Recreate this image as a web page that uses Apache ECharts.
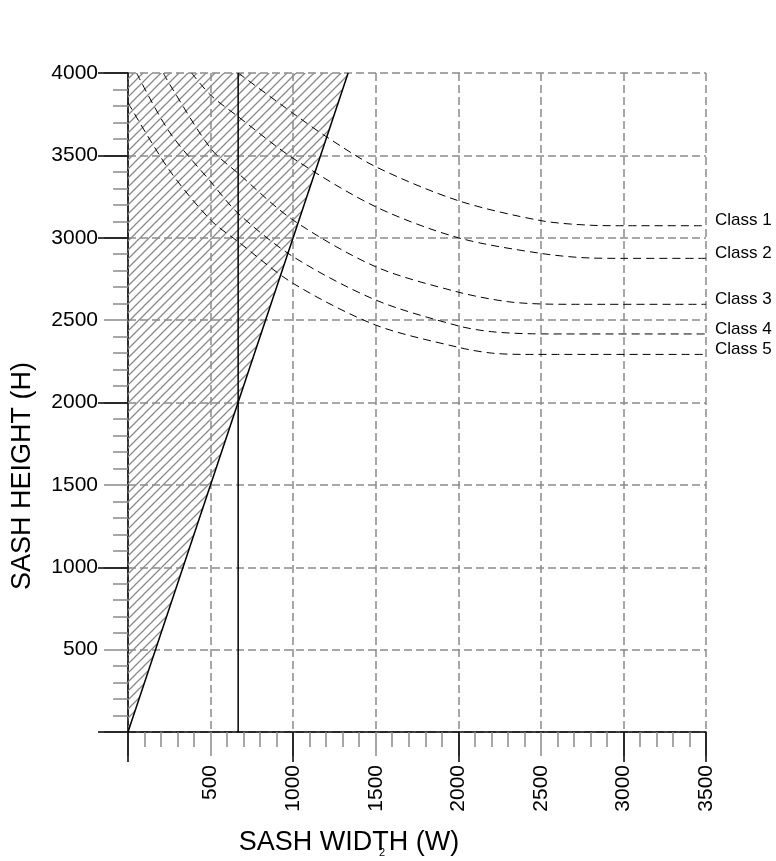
<!DOCTYPE html>
<html>
<head>
<meta charset="utf-8">
<script src="https://cdn.jsdelivr.net/npm/echarts@6/dist/echarts.min.js"></script>
<style>
  html, body { margin: 0; padding: 0; background: #fff; }
  #chart { width: 776px; height: 861px; }
</style>
</head>
<body>
<div id="chart"></div>
<script>
// axis ranges and tick labels
const xMax = 3500;
const yMax = 4000;
const xBlackTicks = [0, 1000, 2000, 3000, 3500];
const yBlackTicks = [0, 1000, 2000, 3000, 3500, 4000];

// limit line H = 3W and the vertical divider
const limitLine = [[0, 0], [1333, 4000]];
const dividerLine = [[667, 0], [667, 4000]];

// class curves: [W, H]
const classNames = ['Class 1', 'Class 2', 'Class 3', 'Class 4', 'Class 5'];
const class1 = [[667, 4000], [1000, 3755], [1200, 3614], [1500, 3431], [2000, 3225], [2500, 3104], [2800, 3076], [3000, 3073], [3500, 3073]];
const class2 = [[385, 4000], [500, 3866], [667, 3735], [1000, 3482], [1500, 3188], [2000, 3000], [2500, 2905], [2800, 2877], [3000, 2875], [3500, 2875]];
const class3 = [[214, 4000], [250, 3935], [500, 3543], [667, 3391], [1000, 3107], [1500, 2824], [2000, 2670], [2300, 2612], [2550, 2597], [2750, 2596], [3500, 2596]];
const class4 = [[52, 4000], [250, 3643], [500, 3341], [667, 3148], [1000, 2885], [1500, 2622], [2000, 2465], [2200, 2430], [2450, 2417], [2650, 2416], [3500, 2416]];
const class5 = [[0, 3820], [250, 3411], [500, 3108], [667, 2976], [1000, 2723], [1500, 2470], [2000, 2335], [2200, 2300], [2400, 2292], [2600, 2292], [3500, 2292]];
const classData = [class1, class2, class3, class4, class5];

const FONT = '"Liberation Sans", Arial, sans-serif';
const GRAY = '#8a8a8a';

// hatch pattern
const tile = document.createElement('canvas');
tile.width = 9;
tile.height = 9;
const ctx = tile.getContext('2d');
ctx.strokeStyle = GRAY;
ctx.lineWidth = 1.3;
ctx.beginPath();
ctx.moveTo(0, 9); ctx.lineTo(9, 0);
ctx.moveTo(-4.5, 4.5); ctx.lineTo(4.5, -4.5);
ctx.moveTo(4.5, 13.5); ctx.lineTo(13.5, 4.5);
ctx.stroke();

const chart = echarts.init(document.getElementById('chart'), null, { renderer: 'canvas' });

const hideZero = v => (v === 0 ? '' : String(v));

function mainAxis(max, isX) {
  return {
    type: 'value',
    min: 0,
    max: max,
    interval: 500,
    position: isX ? 'bottom' : 'left',
    axisLine: { show: true, onZero: false, lineStyle: { color: '#000', width: 1.5 } },
    axisTick: { show: true, length: 24, lineStyle: { color: GRAY, width: 1.5 } },
    minorTick: { show: true, splitNumber: 5, length: 15, lineStyle: { color: GRAY, width: 1.5 } },
    axisLabel: {
      formatter: hideZero,
      color: '#000',
      fontFamily: FONT,
      fontSize: 21,
      margin: isX ? 33 : 30,
      rotate: isX ? 90 : 0
    },
    splitLine: { show: true, lineStyle: { color: GRAY, width: 1.5, type: [8, 4] } },
    minorSplitLine: { show: false }
  };
}

function blackTickAxis(max, isX, ticks) {
  return {
    type: 'value',
    min: 0,
    max: max,
    interval: 500,
    position: isX ? 'bottom' : 'left',
    axisLine: { show: false, onZero: false },
    axisTick: { show: true, length: 30, customValues: ticks, lineStyle: { color: '#000', width: 1.5 } },
    axisLabel: { show: false },
    splitLine: { show: false }
  };
}

const classSeries = classData.map((d, i) => ({
  name: classNames[i],
  type: 'line',
  data: d,
  smooth: 0.3,
  symbol: 'none',
  z: 4,
  lineStyle: { color: '#000', width: 1, type: [8, 5] },
  endLabel: {
    show: true,
    formatter: classNames[i],
    distance: 9,
    offset: [0, -5],
    color: '#000',
    fontFamily: FONT,
    fontSize: 17
  }
}));

chart.setOption({
  animation: false,
  backgroundColor: '#fff',
  grid: { left: 128, right: 70, top: 73, bottom: 129, containLabel: false },
  xAxis: [mainAxis(xMax, true), blackTickAxis(xMax, true, xBlackTicks)],
  yAxis: [mainAxis(yMax, false), blackTickAxis(yMax, false, yBlackTicks)],
  graphic: [
    {
      type: 'text', x: 349, y: 843,
      style: { text: 'SASH WIDTH (W)', font: '27px ' + FONT, fill: '#000', textAlign: 'center', textVerticalAlign: 'middle' }
    },
    {
      type: 'text', x: 382, y: 853,
      style: { text: '2', font: '11px ' + FONT, fill: '#000', textAlign: 'center', textVerticalAlign: 'middle' }
    },
    {
      type: 'text', x: 23, y: 476, rotation: Math.PI / 2,
      style: { text: 'SASH HEIGHT (H)', font: '27px ' + FONT, fill: '#000', textAlign: 'center', textVerticalAlign: 'middle' }
    }
  ],
  series: [
    {
      name: 'limit',
      type: 'line',
      data: limitLine,
      symbol: 'none',
      z: 3,
      lineStyle: { color: '#000', width: 1.5 },
      areaStyle: { origin: 'end', color: { image: tile, repeat: 'repeat' }, opacity: 1 }
    },
    {
      name: 'divider',
      type: 'line',
      data: dividerLine,
      symbol: 'none',
      z: 3,
      lineStyle: { color: '#000', width: 1.5 }
    }
  ].concat(classSeries)
});
</script>
</body>
</html>
